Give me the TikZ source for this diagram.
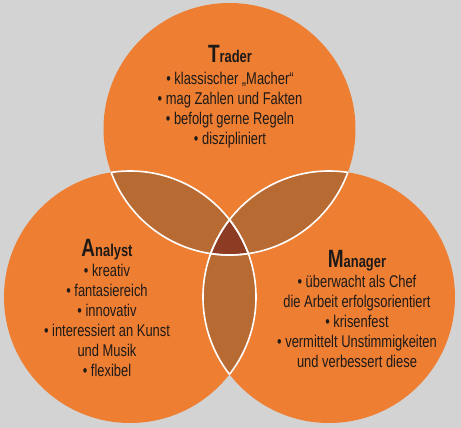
\documentclass[tikz,border=0pt]{standalone}
\usepackage{fontspec}
\setmainfont{Liberation Sans}[FakeStretch=0.76]
\definecolor{bggray}{HTML}{D3D3D3}
\definecolor{circorange}{HTML}{EE7E32}
\definecolor{lensbrown}{HTML}{B86A33}
\definecolor{corebrown}{HTML}{8E3B24}
\definecolor{txt}{HTML}{1E1A18}
\tikzset{
  body/.style={align=center, inner sep=0pt, text=txt, font=\fontsize{17}{20}\selectfont, anchor=base},
  ttl/.style={inner sep=0pt, text=txt, font=\bfseries\fontsize{17}{20}\selectfont, anchor=base},
  seam/.style={draw=white, line width=1.6pt}
}
\newcommand{\bigfirst}[2]{{\fontsize{25}{25}\selectfont #1}#2}
\begin{document}
\begin{tikzpicture}[x=1pt,y=-1pt]
\fill[bggray] (0,0) rectangle (461,428);
\useasboundingbox (0,0) rectangle (461,428);
\coordinate (T) at (229.5,129);
\coordinate (A) at (130,297);
\coordinate (M) at (329,297);
\def\R{126pt}
\fill[circorange] (T) circle[radius=\R];
\fill[circorange] (A) circle[radius=\R];
\fill[circorange] (M) circle[radius=\R];
\begin{scope}
  \clip (T) circle[radius=\R];
  \fill[lensbrown] (A) circle[radius=\R];
  \fill[lensbrown] (M) circle[radius=\R];
\end{scope}
\begin{scope}
  \clip (A) circle[radius=\R];
  \fill[lensbrown] (M) circle[radius=\R];
\end{scope}
\begin{scope}
  \clip (T) circle[radius=\R];
  \clip (A) circle[radius=\R];
  \fill[corebrown] (M) circle[radius=\R];
\end{scope}
\begin{scope}
  \clip (T) circle[radius=\R];
  \draw[seam] (A) circle[radius=\R];
  \draw[seam] (M) circle[radius=\R];
\end{scope}
\begin{scope}
  \clip (A) circle[radius=\R];
  \draw[seam] (T) circle[radius=\R];
  \draw[seam] (M) circle[radius=\R];
\end{scope}
\begin{scope}
  \clip (M) circle[radius=\R];
  \draw[seam] (T) circle[radius=\R];
  \draw[seam] (A) circle[radius=\R];
\end{scope}
% Trader
\node[ttl] (ttrader) at (230,63) {\bigfirst{T}{rader}};
\node[body] (btrader) at (230,144) {• klassischer „Macher“\\ • mag Zahlen und Fakten\\ • befolgt gerne Regeln\\ • diszipliniert};
% Analyst
\node[ttl] (tanalyst) at (107,256) {\bigfirst{A}{nalyst}};
\node[body] (banalyst) at (107,376) {• kreativ\\ • fantasiereich\\ • innovativ\\ • interessiert an Kunst\\ und Musik\\ • flexibel};
% Manager
\node[ttl] (tmanager) at (357,267) {\bigfirst{M}{anager}};
\node[body] (bmanager) at (357,367) {• überwacht als Chef\\ die Arbeit erfolgsorientiert\\ • krisenfest\\ • vermittelt Unstimmigkeiten\\ und verbessert diese};
\end{tikzpicture}
\end{document}
